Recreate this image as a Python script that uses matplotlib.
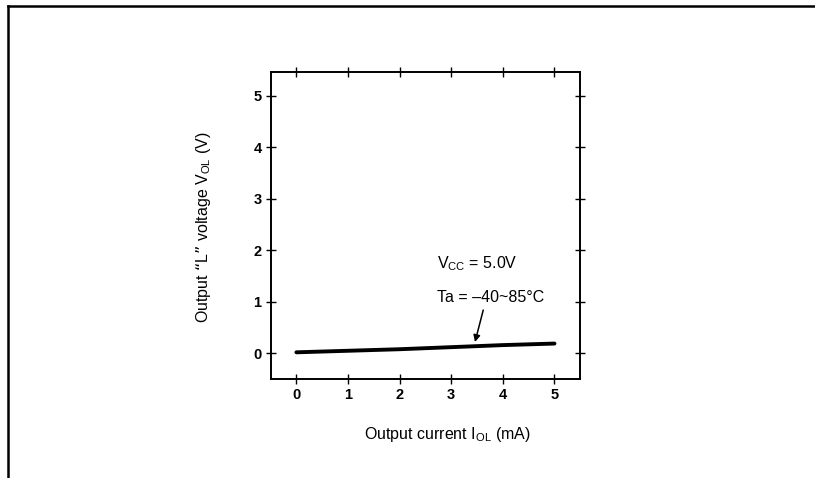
import matplotlib
matplotlib.use("Agg")
import matplotlib.pyplot as plt
from matplotlib.lines import Line2D

plt.rcParams['font.family'] = ['Liberation Sans Narrow', 'Liberation Sans', 'DejaVu Sans']
plt.rcParams['mathtext.default'] = 'regular'

# datos
i_ol = [0, 1, 2, 3, 4, 5]
v_ol = [0.02, 0.05, 0.08, 0.12, 0.16, 0.19]
xticks = [0, 1, 2, 3, 4, 5]
yticks = [0, 1, 2, 3, 4, 5]

fig = plt.figure(figsize=(8.15, 4.78), dpi=100)
ax = fig.add_axes([0.332, 0.208, 0.380, 0.641])

# marco exterior (arriba e izquierda)
fig.add_artist(Line2D([0.0098, 1.0], [0.987, 0.987], color='black', lw=1.8,
                      transform=fig.transFigure))
fig.add_artist(Line2D([0.0098, 0.0098], [0.987, 0.0], color='black', lw=1.8,
                      transform=fig.transFigure))

ax.plot(i_ol, v_ol, color='black', lw=2.8, solid_capstyle='round')

ax.set_xlim(-0.5, 5.5)
ax.set_ylim(-0.49, 5.46)
ax.set_xticks(xticks)
ax.set_yticks(yticks)
ax.tick_params(direction='inout', length=7, width=1.0, top=True, right=True,
               labelsize=10.5, pad=3)
for lab in ax.get_xticklabels() + ax.get_yticklabels():
    lab.set_fontweight('bold')
for s in ax.spines.values():
    s.set_linewidth(1.4)

ax.set_xlabel(r'Output current I$_{OL}$ (mA)', fontsize=11.5, va='center')
ax.xaxis.set_label_coords(0.57, -0.184)
ax.set_ylabel(r'Output “L” voltage V$_{OL}$ (V)', fontsize=11.5, va='center')
ax.yaxis.set_label_coords(-0.216, 0.493)

ax.text(2.72, 1.75, r'V$_{CC}$ = 5.0V', fontsize=11.5, va='center', ha='left')
ax.text(2.72, 1.09, 'Ta = –40~85°C', fontsize=11.5, va='center', ha='left')
ax.annotate('', xy=(3.46, 0.22), xytext=(3.62, 0.84),
            arrowprops=dict(arrowstyle='-|>', color='black', lw=1.1,
                            mutation_scale=10, shrinkA=0, shrinkB=0))

fig.savefig('out.png', dpi=100)
